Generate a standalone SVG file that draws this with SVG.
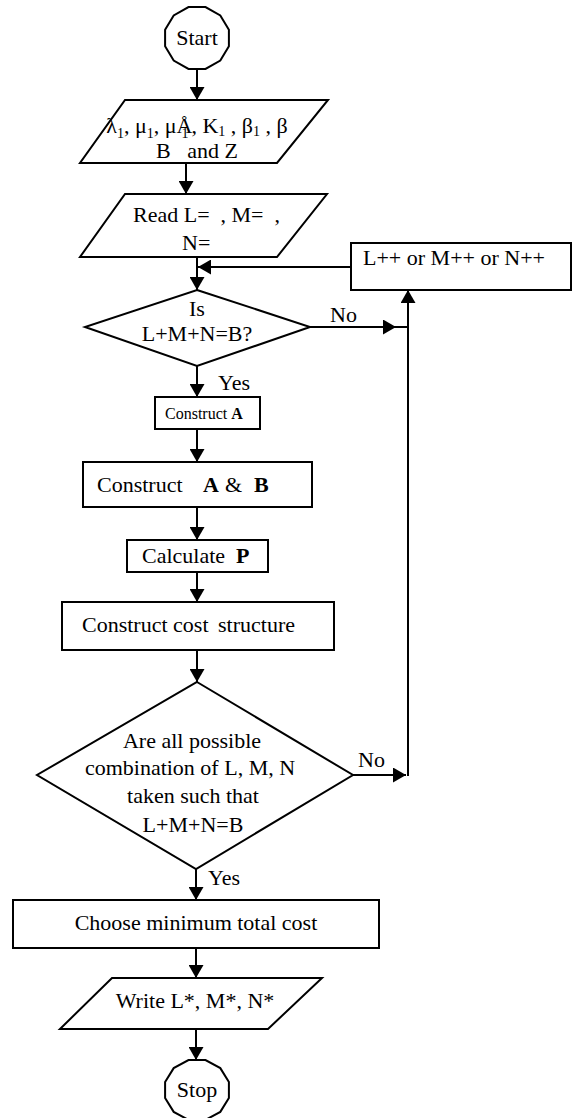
<svg xmlns="http://www.w3.org/2000/svg" width="573" height="1118" viewBox="0 0 573 1118">
<style>
.s{fill:#fff;stroke:#000;stroke-width:2}
text{font-family:"Liberation Serif","Times New Roman",serif;font-size:22px;fill:#000}
.c line,.c path{stroke:#000;stroke-width:2;fill:none}
.b{font-weight:bold}
.sub{font-size:14px}
.sm{font-size:16px}
</style>
<defs>
<marker id="a" markerUnits="userSpaceOnUse" markerWidth="14" markerHeight="15" refX="13" refY="7.5" orient="auto"><path d="M0,0 L13,7.5 L0,15 z" fill="#000"/></marker>
</defs>
<rect width="573" height="1118" fill="#fff"/>
<g id="start">
<polygon class="s" points="228.9,46.3 220.3,60.6 205.5,68.9 188.5,68.9 173.7,60.6 165.1,46.3 165.1,29.7 173.7,15.4 188.5,7.1 205.5,7.1 220.3,15.4 228.9,29.7"/>
<text x="197" y="45" text-anchor="middle">Start</text>
</g>
<g id="input">
<polygon class="s" points="125,100 328,100 277,163 80,163"/>
<text x="197" y="133" text-anchor="middle">λ<tspan class="sub" dy="5">1</tspan><tspan dy="-5">, μ</tspan><tspan class="sub" dy="5">1</tspan><tspan dy="-5">, μÅ</tspan><tspan class="sub" dx="-11" dy="5">1</tspan><tspan dx="3" dy="-5">, K</tspan><tspan class="sub" dy="3">1</tspan><tspan dy="-3"> , β</tspan><tspan class="sub" dy="3">1</tspan><tspan dy="-3"> , β</tspan></text>
<text x="197" y="158" text-anchor="middle" xml:space="preserve">B   and Z</text>
</g>
<g id="read">
<polygon class="s" points="125,194 327,194 277,257 80,257"/>
<text x="133" y="222" xml:space="preserve">Read L=  , M=  ,</text>
<text x="182" y="250">N=</text>
</g>
<g id="check1">
<polygon class="s" points="197,290 310,327 197,366 85,327"/>
<text x="197" y="316" text-anchor="middle">Is</text>
<text x="197" y="341" text-anchor="middle">L+M+N=B?</text>
</g>
<g id="increment">
<rect class="s" x="351" y="243" width="220" height="47"/>
<text x="363" y="265">L++ or M++ or N++</text>
</g>
<g id="constructA">
<rect class="s" x="155" y="397" width="105" height="32"/>
<text x="165" y="419" class="sm">Construct <tspan class="b">A</tspan></text>
</g>
<g id="constructAB">
<rect class="s" x="83" y="462" width="229" height="45"/>
<text y="492"><tspan x="97">Construct</tspan><tspan x="203" class="b">A</tspan><tspan x="225">&amp;</tspan><tspan x="254" class="b">B</tspan></text>
</g>
<g id="calcP">
<rect class="s" x="127" y="540" width="141" height="32"/>
<text y="563"><tspan x="142">Calculate</tspan><tspan x="236" class="b">P</tspan></text>
</g>
<g id="cost">
<rect class="s" x="62" y="602" width="272" height="48"/>
<text y="632"><tspan x="82">Construct cost</tspan><tspan x="218">structure</tspan></text>
</g>
<g id="check2">
<polygon class="s" points="197,682 353,775 196,869 37,775"/>
<text x="192" y="748" text-anchor="middle">Are all possible</text>
<text x="190" y="775" text-anchor="middle">combination of L, M, N</text>
<text x="193" y="803" text-anchor="middle">taken such that</text>
<text x="193" y="832" text-anchor="middle">L+M+N=B</text>
</g>
<g id="choose">
<rect class="s" x="13" y="900" width="366" height="48"/>
<text x="196" y="930" text-anchor="middle">Choose minimum total cost</text>
</g>
<g id="write">
<polygon class="s" points="112,978 322,978 268,1029 60,1029"/>
<text x="195" y="1008" text-anchor="middle">Write L*, M*, N*</text>
</g>
<g id="stop">
<polygon class="s" points="228.9,1098 220.3,1111.9 205.5,1119.9 188.5,1119.9 173.7,1111.9 165.1,1098 165.1,1082 173.7,1068.1 188.5,1060.1 205.5,1060.1 220.3,1068.1 228.9,1082"/>
<text x="197" y="1097" text-anchor="middle">Stop</text>
</g>
<g id="connectors" class="c">
<line x1="197" y1="69" x2="197" y2="100" marker-end="url(#a)"/>
<line x1="186" y1="163" x2="186" y2="194" marker-end="url(#a)"/>
<line x1="197" y1="257" x2="197" y2="290" marker-end="url(#a)"/>
<line x1="351" y1="267" x2="198" y2="267" marker-end="url(#a)"/>
<line x1="310" y1="327" x2="396" y2="327" marker-end="url(#a)"/>
<line x1="396" y1="327" x2="408" y2="327"/>
<line x1="408" y1="776" x2="408" y2="290" marker-end="url(#a)"/>
<line x1="197" y1="366" x2="197" y2="397" marker-end="url(#a)"/>
<line x1="197" y1="429" x2="197" y2="462" marker-end="url(#a)"/>
<line x1="197" y1="507" x2="197" y2="540" marker-end="url(#a)"/>
<line x1="197" y1="572" x2="197" y2="602" marker-end="url(#a)"/>
<line x1="197" y1="650" x2="197" y2="682" marker-end="url(#a)"/>
<line x1="353" y1="775" x2="406" y2="775" marker-end="url(#a)"/>
<line x1="196" y1="869" x2="196" y2="900" marker-end="url(#a)"/>
<line x1="196" y1="948" x2="196" y2="978" marker-end="url(#a)"/>
<line x1="196" y1="1029" x2="196" y2="1060" marker-end="url(#a)"/>
<text x="330" y="322">No</text>
<text x="218" y="390">Yes</text>
<text x="358" y="767">No</text>
<text x="208" y="885">Yes</text>
</g>
</svg>
